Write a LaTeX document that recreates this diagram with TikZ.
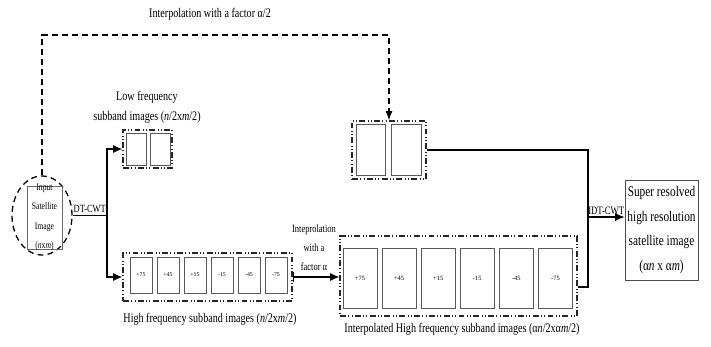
\documentclass[tikz,border=0pt]{standalone}
\usepackage{graphicx}
\usepackage{fontspec}
\setmainfont{Liberation Serif}
\usetikzlibrary{arrows.meta,shapes.geometric}
\newcommand{\tallt}[1]{\scalebox{1}[1.3]{#1}}

\begin{document}
\begin{tikzpicture}[x=0.85pt,y=-0.85pt]
    % Styling
    \tikzset{
        c_dash/.style={line width=1.1pt, dash pattern=on 5pt off 3.5pt},
        c_ellipse/.style={ellipse, draw, c_dash, minimum width=60*0.85pt, minimum height=79*0.85pt},
        c_grp/.style={draw=black!85, line width=0.9pt, inner sep=0pt,
            dash pattern=on 5pt off 2pt on 0.8pt off 2pt on 0.8pt off 2pt},
        c_sub/.style={draw=black!65, line width=0.7pt, inner sep=0pt, font=\fontsize{5}{6}\selectfont},
        c_wire/.style={line width=1.1pt},
        c_arrow/.style={line width=1.1pt, -{Latex[length=8pt,width=7pt]}},
        c_label/.style={font=\fontsize{8.6}{17}\selectfont, align=center, inner sep=0pt},
        c_small/.style={font=\fontsize{7.2}{16}\selectfont, align=center, inner sep=0pt}
    }
    \useasboundingbox (0,0) rectangle (711,347);

    % Input image
    \node[c_ellipse] (in_ell) at (42,215.5) {};
    \node[draw=black!60, line width=0.6pt, minimum width=35*0.85pt, minimum height=63*0.85pt] (in_box) at (44.5,217.5) {};
    \node[font=\fontsize{6.5}{16.5}\selectfont, align=center, inner sep=0pt] (in_txt) at (in_box.center)
        {\tallt{Input}\\\tallt{Satellite}\\\tallt{Image}\\\tallt{(\textit{n}x\textit{m})}};

    % Define points
    \coordinate (j1) at (107,215.5);
    \coordinate (d_top) at (42,35);
    \coordinate (j2) at (588,217);
    \coordinate (o_bot) at (588,287);

    % Low frequency subbands
    \node[c_grp, minimum width=49*0.85pt, minimum height=38*0.85pt] (low_grp) at (147.5,149) {};
    \node[c_sub, minimum width=20*0.85pt, minimum height=32*0.85pt] (low_a) at (136,149) {};
    \node[c_sub, minimum width=20*0.85pt, minimum height=32*0.85pt] (low_b) at (160,149) {};
    \node[c_label] (low_txt) at (147,107) {\tallt{Low frequency}\\\tallt{subband images (\textit{n}/2x\textit{m}/2)}};

    % High frequency subbands
    \node[c_grp, minimum width=169*0.85pt, minimum height=48*0.85pt] (high_grp) at (207.5,277) {};
    \foreach \a [count=\i from 0] in {+75,+45,+15,-15,-45,-75} {
        \node[c_sub, minimum width=22*0.85pt, minimum height=36*0.85pt] (hf\i) at (141+27*\i,275) {\a};
    }
    \node[c_label] (high_txt) at (210,319) {\tallt{High frequency subband images (\textit{n}/2x\textit{m}/2)}};

    % Interpolated high frequency subbands
    \node[c_grp, minimum width=237*0.85pt, minimum height=80*0.85pt] (int_grp) at (458.5,276) {};
    \foreach \a [count=\i from 0] in {+75,+45,+15,-15,-45,-75} {
        \node[c_sub, minimum width=34*0.85pt, minimum height=60*0.85pt, font=\fontsize{5.5}{6}\selectfont] (ihf\i) at (360+39.1*\i,278) {\a};
    }
    \node[c_label] (int_lbl) at (462,329) {\tallt{Interpolated High frequency subband images (α\textit{n}/2xα\textit{m}/2)}};
    \node[c_small] (int_txt) at (314,248) {\tallt{Inteprolation}\\\tallt{with a}\\\tallt{factor α}};

    % Interpolated low frequency subbands
    \node[c_grp, minimum width=74*0.85pt, minimum height=58*0.85pt] (up_grp) at (389,150) {};
    \node[c_sub, minimum width=29*0.85pt, minimum height=51*0.85pt] (up_a) at (371,149.5) {};
    \node[c_sub, minimum width=30*0.85pt, minimum height=51*0.85pt] (up_b) at (406,149.5) {};
    \node[c_label] (title) at (210,14) {\tallt{Interpolation with a factor α/2}};

    % Output image
    \node[draw=black!70, line width=0.8pt, minimum width=73*0.85pt, minimum height=100*0.85pt,
        font=\fontsize{9.6}{21}\selectfont, align=center, inner sep=0pt] (out_box) at (661.5,230)
        {\tallt{Super resolved}\\\tallt{high resolution}\\\tallt{satellite image}\\\tallt{(α\textit{n} x α\textit{m})}};

    % Draw connections
    \draw[c_dash, -{Latex[length=8pt,width=6pt]}] (in_ell.north) -- (d_top) -| (up_grp.north);
    \draw[c_wire] (in_ell.east) -- node[above, inner sep=1.5pt, font=\fontsize{7.2}{8}\selectfont] (dt_txt) {\tallt{DT-CWT}} (j1);
    \draw[c_arrow] (j1) |- (low_grp.west);
    \draw[c_arrow] (j1) |- (high_grp.west);
    \draw[c_wire, {Bar[width=9pt]}-{Latex[length=8pt,width=7pt]}] (high_grp.east) -- (high_grp.east -| int_grp.west);
    \draw[c_wire] (up_grp.east) -| (o_bot) -- (o_bot -| int_grp.east);
    \draw[c_arrow] (j2) -- node[above, inner sep=1.5pt, font=\fontsize{7.4}{8}\selectfont] (idt_txt) {\tallt{IDT-CWT}} (j2 -| out_box.west);
\end{tikzpicture}
\end{document}
